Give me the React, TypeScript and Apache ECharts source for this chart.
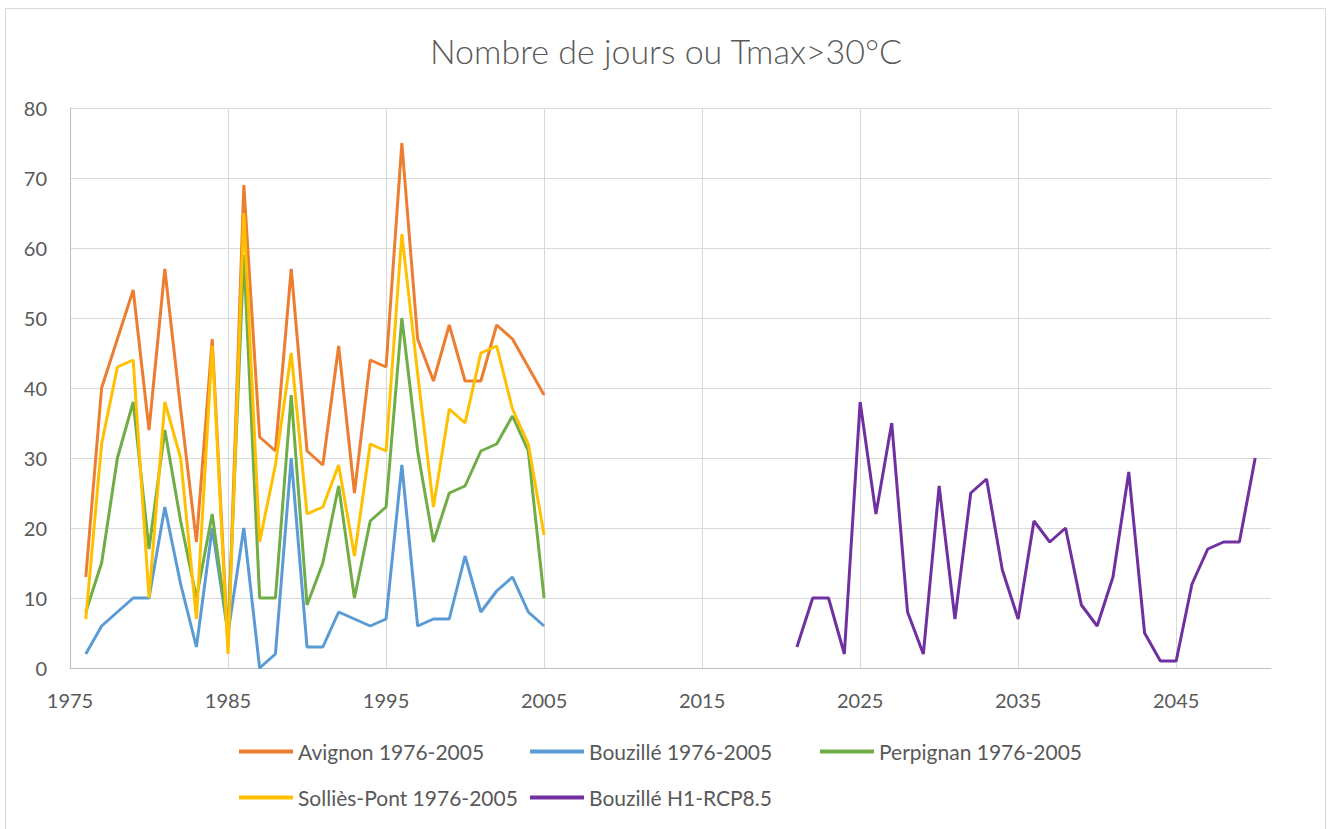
import React, { useEffect, useRef } from "react";
import * as echarts from "echarts";

const titleText = "Nombre de jours ou Tmax>30°C";

const histYears = [
  1976, 1977, 1978, 1979, 1980, 1981, 1982, 1983, 1984, 1985,
  1986, 1987, 1988, 1989, 1990, 1991, 1992, 1993, 1994, 1995,
  1996, 1997, 1998, 1999, 2000, 2001, 2002, 2003, 2004, 2005,
];
const projYears = [
  2021, 2022, 2023, 2024, 2025, 2026, 2027, 2028, 2029, 2030,
  2031, 2032, 2033, 2034, 2035, 2036, 2037, 2038, 2039, 2040,
  2041, 2042, 2043, 2044, 2045, 2046, 2047, 2048, 2049, 2050,
];

const avignon = [13, 40, 47, 54, 34, 57, 37, 18, 47, 3, 69, 33, 31, 57, 31, 29, 46, 25, 44, 43, 75, 47, 41, 49, 41, 41, 49, 47, 43, 39];
const bouzille = [2, 6, 8, 10, 10, 23, 12, 3, 20, 5, 20, 0, 2, 30, 3, 3, 8, 7, 6, 7, 29, 6, 7, 7, 16, 8, 11, 13, 8, 6];
const perpignan = [8, 15, 30, 38, 17, 34, 21, 10, 22, 5, 59, 10, 10, 39, 9, 15, 26, 10, 21, 23, 50, 31, 18, 25, 26, 31, 32, 36, 31, 10];
const sollies = [7, 32, 43, 44, 10, 38, 30, 7, 46, 2, 65, 18, 29, 45, 22, 23, 29, 16, 32, 31, 62, 42, 23, 37, 35, 45, 46, 37, 32, 19];
const bouzilleRcp = [3, 10, 10, 2, 38, 22, 35, 8, 2, 26, 7, 25, 27, 14, 7, 21, 18, 20, 9, 6, 13, 28, 5, 1, 1, 12, 17, 18, 18, 30];

const seriesNames = [
  "Avignon 1976-2005",
  "Bouzillé 1976-2005",
  "Perpignan 1976-2005",
  "Solliès-Pont 1976-2005",
  "Bouzillé H1-RCP8.5",
];
const seriesColors = ["#ED7D31", "#5B9BD5", "#70AD47", "#FFC000", "#7030A0"];

const xMin = 1975;
const xMax = 2051;
const xStep = 10;

export default function App() {
  const ref = useRef<HTMLDivElement>(null);
  useEffect(() => {
    if (!ref.current) return;
    const chart = echarts.init(ref.current, null, { renderer: "svg" });
    const pairs = (xs: number[], ys: number[]) => xs.map((x, i) => [x, ys[i]]);
    const dataSets = [
      pairs(histYears, avignon),
      pairs(histYears, bouzille),
      pairs(histYears, perpignan),
      pairs(histYears, sollies),
      pairs(projYears, bouzilleRcp),
    ];
    const font = "Lato, 'Open Sans', sans-serif";
    const textColor = "#595959";
    const legendPos = [
      { left: 239, top: 741 },
      { left: 530, top: 741 },
      { left: 820, top: 741 },
      { left: 239, top: 787 },
      { left: 530, top: 787 },
    ];
    const nLines = Math.floor((xMax - xMin) / xStep) + 2;
    const vColors = Array.from({ length: nLines }, (_, i) =>
      i === nLines - 1 ? "rgba(0,0,0,0)" : "#d9d9d9"
    );
    chart.setOption({
      animation: false,
      backgroundColor: "#ffffff",
      title: {
        text: titleText,
        left: "center",
        top: 33,
        padding: 0,
        textStyle: { fontFamily: font, fontSize: 34, fontWeight: 300, color: textColor },
      },
      graphic: [
        {
          type: "rect",
          shape: { x: 5.5, y: 8.5, width: 1320, height: 840 },
          style: { fill: "none", stroke: "#d9d9d9", lineWidth: 1 },
          silent: true,
        },
      ],
      grid: { left: 70, right: 61, top: 108, bottom: 161, containLabel: false },
      legend: seriesNames.map((n, i) => ({
        data: [n],
        left: legendPos[i].left,
        top: legendPos[i].top,
        padding: 0,
        icon: "rect",
        itemWidth: 54,
        itemHeight: 4,
        textStyle: { fontFamily: font, fontSize: 21, color: textColor },
        selectedMode: false,
      })),
      xAxis: {
        type: "value",
        min: xMin,
        max: xMax,
        interval: xStep,
        axisLine: { show: true, lineStyle: { color: "#bfbfbf", width: 1 } },
        axisTick: { show: false },
        axisLabel: {
          fontFamily: font,
          fontSize: 20,
          color: textColor,
          margin: 22,
          showMaxLabel: false,
          formatter: (v: number) => ((v - xMin) % xStep === 0 ? String(v) : ""),
        },
        splitLine: { show: true, lineStyle: { color: vColors, width: 1 } },
      },
      yAxis: {
        type: "value",
        min: 0,
        max: 80,
        interval: 10,
        axisLine: { show: true, lineStyle: { color: "#bfbfbf", width: 1 } },
        axisTick: { show: false },
        axisLabel: { fontFamily: font, fontSize: 20, color: textColor, margin: 23 },
        splitLine: { show: true, lineStyle: { color: "#d9d9d9", width: 1 } },
      },
      series: seriesNames.map((n, i) => ({
        name: n,
        type: "line",
        data: dataSets[i],
        symbol: "none",
        showSymbol: false,
        lineStyle: { color: seriesColors[i], width: 3 },
        itemStyle: { color: seriesColors[i] },
      })),
    });
    return () => chart.dispose();
  }, []);
  return (
    <div
      ref={ref}
      style={{ position: "fixed", left: 0, top: 0, width: 1332, height: 829 }}
    />
  );
}
